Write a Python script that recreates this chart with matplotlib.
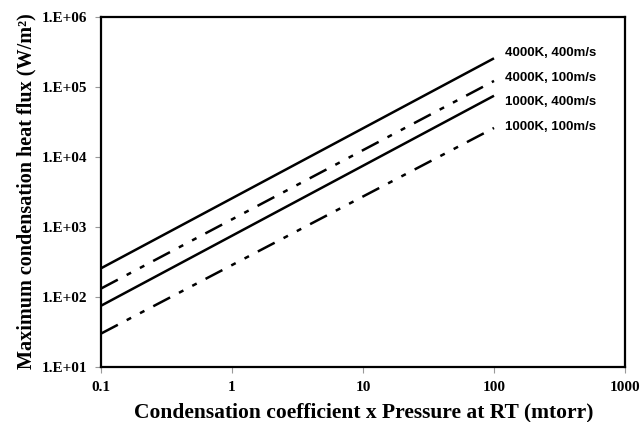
import matplotlib
matplotlib.use("Agg")
import matplotlib.pyplot as plt

# Condensation coefficient x pressure (mtorr), endpoints of each curve
pressure = [0.1, 100]

series_labels = ["4000K, 400m/s", "4000K, 100m/s", "1000K, 400m/s", "1000K, 100m/s"]
flux_4000K_400 = [257, 2.57e5]
flux_4000K_100 = [132, 1.22e5]
flux_1000K_400 = [75, 7.5e4]
flux_1000K_100 = [30, 2.6e4]

# label anchor positions (data coordinates)
label_x = 121
label_y = [3.06e5, 1.35e5, 6.1e4, 2.7e4]

xticks = [0.1, 1, 10, 100, 1000]
xtick_labels = ["0.1", "1", "10", "100", "1000"]
yticks = [1e1, 1e2, 1e3, 1e4, 1e5, 1e6]
ytick_labels = ["1.E+01", "1.E+02", "1.E+03", "1.E+04", "1.E+05", "1.E+06"]

serif = ["Liberation Serif", "DejaVu Serif"]
sans = ["Liberation Sans", "DejaVu Sans"]

fig = plt.figure(figsize=(6.41, 4.22), dpi=100)
ax = fig.add_axes([101 / 641, 1 - 367 / 422, 524 / 641, 350 / 422])

lw = 1.8
dashdotdot = (0, (7.6, 4.0, 2.0, 4.0, 2.0, 4.0))
styles = ["-", dashdotdot, "-", dashdotdot]
data = [flux_4000K_400, flux_4000K_100, flux_1000K_400, flux_1000K_100]

for ys, ls in zip(data, styles):
    ax.plot(pressure, ys, color="black", linewidth=lw, linestyle=ls,
            solid_capstyle="butt", dash_capstyle="butt")

for txt, yy in zip(series_labels, label_y):
    ax.text(label_x, yy, txt, family=sans, fontweight="bold", fontsize=9.5,
            ha="left", va="center")

ax.set_xscale("log")
ax.set_yscale("log")
ax.set_xlim(0.1, 1000)
ax.set_ylim(10, 1e6)
ax.minorticks_off()
ax.set_xticks(xticks)
ax.set_xticklabels(xtick_labels)
ax.set_yticks(yticks)
ax.set_yticklabels(ytick_labels)

for lab in ax.get_xticklabels() + ax.get_yticklabels():
    lab.set_family(serif)
    lab.set_fontweight("bold")
    lab.set_fontsize(11)

ax.tick_params(axis="both", which="major", direction="out", length=4,
               width=0.8, color="#999999", pad=6)
ax.tick_params(axis="y", pad=6)

for sp in ax.spines.values():
    sp.set_linewidth(1.6)
    sp.set_color("black")

ax.set_xlabel("Condensation coefficient x Pressure at RT (mtorr)",
              family=serif, fontweight="bold", fontsize=15.5)
ax.set_ylabel("Maximum condensation heat flux (W/m\u00b2)",
              family=serif, fontweight="bold", fontsize=14.5)
ax.xaxis.set_label_coords(0.501, -0.129)
ax.xaxis.label.set_va("center")
ax.yaxis.set_label_coords(-0.143, 0.503)
ax.yaxis.label.set_va("center")

fig.savefig("out.png", dpi=100)
